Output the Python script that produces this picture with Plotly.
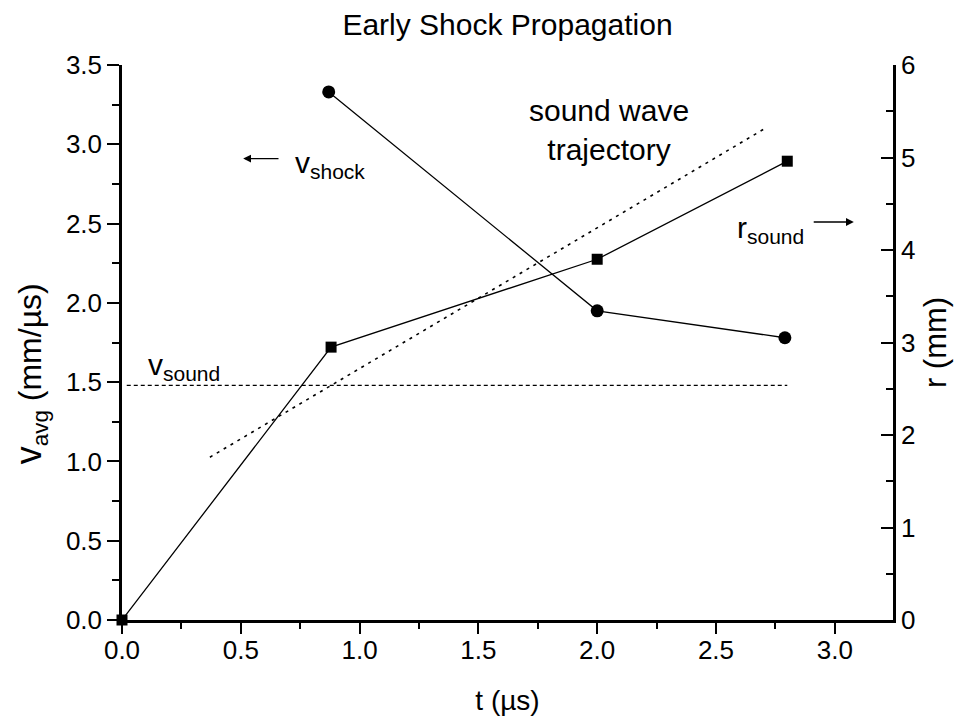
import plotly.graph_objects as go

# ---- data ----
t_shock = [0.87, 2.0, 2.79]
v_shock = [3.33, 1.95, 1.78]          # left axis, mm/us

t_radius = [0.0, 0.88, 2.0, 2.8]
r_radius = [0.0, 2.95, 3.90, 4.96]    # right axis, mm

t_vsound = [0.02, 2.8]
v_sound = [1.48, 1.48]                # left axis, mm/us

t_traj = [0.37, 2.71]
r_traj = [1.76, 5.32]                 # right axis, mm

x_ticks = [0.0, 0.5, 1.0, 1.5, 2.0, 2.5, 3.0]
y_ticks = [0.0, 0.5, 1.0, 1.5, 2.0, 2.5, 3.0, 3.5]
y2_ticks = [0, 1, 2, 3, 4, 5, 6]

FONT = "Liberation Sans, Arial, Helvetica, sans-serif"
BLACK = "black"

fig = go.Figure()

fig.add_trace(go.Scatter(
    x=t_vsound, y=v_sound, mode="lines",
    line=dict(color=BLACK, width=1.2, dash="4px,3px"),
    yaxis="y", showlegend=False, hoverinfo="skip"))

fig.add_trace(go.Scatter(
    x=t_traj, y=r_traj, mode="lines",
    line=dict(color=BLACK, width=1.6, dash="3px,5px"),
    yaxis="y2", showlegend=False, hoverinfo="skip"))

fig.add_trace(go.Scatter(
    x=t_shock, y=v_shock, mode="lines+markers",
    line=dict(color=BLACK, width=1.3),
    marker=dict(symbol="circle", size=13, color=BLACK),
    yaxis="y", showlegend=False))

fig.add_trace(go.Scatter(
    x=t_radius, y=r_radius, mode="lines+markers",
    line=dict(color=BLACK, width=1.3),
    marker=dict(symbol="square", size=11, color=BLACK),
    yaxis="y2", showlegend=False, cliponaxis=False))

axis_common = dict(
    showgrid=False, zeroline=False, showline=True,
    linecolor=BLACK, linewidth=2.5,
    tickcolor=BLACK, tickwidth=2,
    tickfont=dict(family=FONT, size=26, color=BLACK),
)

FIG_H = 715

fig.update_layout(
    width=959, height=FIG_H,
    margin=dict(l=114, r=74, t=57, b=103),
    paper_bgcolor="white", plot_bgcolor="white",
    font=dict(family=FONT, color=BLACK),
    title=dict(text="Early Shock Propagation", x=0.5, xref="paper",
               y=1 - 16 / FIG_H, yref="container", xanchor="center", yanchor="middle",
               font=dict(family=FONT, size=30, color=BLACK)),
    xaxis=dict(
        range=[0, 3.245], tickvals=x_ticks,
        ticktext=[f"{v:.1f}" for v in x_ticks],
        ticks="outside", ticklen=11, ticklabelstandoff=-6,
        minor=dict(dtick=0.25, tick0=0, ticks="outside", ticklen=6,
                   tickwidth=2, tickcolor=BLACK),
        title=dict(text="t (µs)", font=dict(family=FONT, size=28, color=BLACK),
                   standoff=27),
        **axis_common),
    yaxis=dict(
        range=[0, 3.5], tickvals=y_ticks,
        ticktext=[f"{v:.1f}" for v in y_ticks],
        ticks="outside", ticklen=12,
        minor=dict(dtick=0.25, tick0=0, ticks="outside", ticklen=7,
                   tickwidth=2, tickcolor=BLACK),
        **axis_common),
    yaxis2=dict(
        range=[0, 6], tickvals=y2_ticks,
        ticktext=[str(v) for v in y2_ticks],
        overlaying="y", side="right",
        ticks="inside", ticklen=12,
        minor=dict(dtick=0.5, tick0=0, ticks="inside", ticklen=7,
                   tickwidth=2, tickcolor=BLACK),
        title=dict(text="r (mm)", font=dict(family=FONT, size=31, color=BLACK),
                   standoff=10),
        **axis_common),
)

# left axis title, placed as rotated text like the reference
fig.add_annotation(
    x=0, xref="paper", xshift=-92, y=1.55, yref="y",
    text='<span style="font-size:36px">v</span><sub>avg</sub> (mm/µs)',
    textangle=-90, showarrow=False, xanchor="center", yanchor="middle",
    font=dict(family=FONT, size=32, color=BLACK))

ann_font = dict(family=FONT, size=30, color=BLACK)

# v_shock label with arrow pointing left
fig.add_annotation(x=0.51, y=2.91, ax=0.665, ay=2.91, xref="x", yref="y",
                   axref="x", ayref="y", text="", showarrow=True,
                   arrowhead=2, arrowsize=1.2, arrowwidth=1.3, arrowcolor=BLACK)
fig.add_annotation(x=0.72, y=2.87, xref="x", yref="y", text="v<sub>shock</sub>",
                   showarrow=False, xanchor="left", yanchor="middle", font=ann_font)

# sound wave trajectory label
fig.add_annotation(x=2.05, y=3.09, xref="x", yref="y",
                   text="sound wave<br>trajectory", showarrow=False,
                   xanchor="center", yanchor="middle", font=ann_font)

# r_sound label with arrow pointing right
fig.add_annotation(x=2.58, y=2.46, xref="x", yref="y", text="r<sub>sound</sub>",
                   showarrow=False, xanchor="left", yanchor="middle", font=ann_font)
fig.add_annotation(x=3.08, y=2.51, ax=2.905, ay=2.51, xref="x", yref="y",
                   axref="x", ayref="y", text="", showarrow=True,
                   arrowhead=2, arrowsize=1.2, arrowwidth=1.3, arrowcolor=BLACK)

# v_sound label
fig.add_annotation(x=0.1, y=1.6, xref="x", yref="y", text="v<sub>sound</sub>",
                   showarrow=False, xanchor="left", yanchor="middle", font=ann_font)

fig.write_html("out.html")
